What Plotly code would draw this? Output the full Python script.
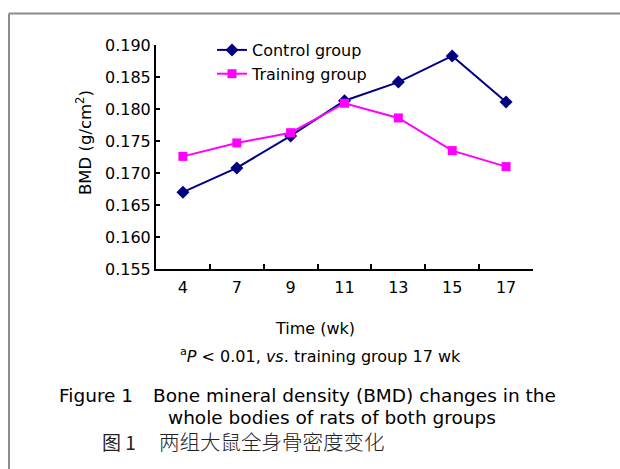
import plotly.graph_objects as go

# Measurement weeks and whole-body BMD (g/cm^2) of each group
weeks = ["4", "7", "9", "11", "13", "15", "17"]
control_bmd = [0.1670, 0.1708, 0.1758, 0.1813, 0.1842, 0.1883, 0.1811]
training_bmd = [0.1726, 0.1747, 0.1763, 0.1809, 0.1786, 0.1735, 0.1710]
y_ticks = [0.155, 0.160, 0.165, 0.170, 0.175, 0.180, 0.185, 0.190]

W_PX, H_PX = 620, 469
L, R, T, B = 156, 533, 45, 269  # plot-area edges in pixels


def px(x):
    return (x - L) / (R - L)


def py(y):
    return (B - y) / (B - T)


FONT = "DejaVu Sans"
CJK = "Noto Sans CJK SC"

fig = go.Figure()
fig.add_trace(go.Scatter(
    x=weeks, y=control_bmd, name="Control group", mode="lines+markers",
    line=dict(color="#000080", width=2),
    marker=dict(symbol="diamond", size=10, color="#000080"),
))
fig.add_trace(go.Scatter(
    x=weeks, y=training_bmd, name="Training group", mode="lines+markers",
    line=dict(color="#FF00FF", width=2),
    marker=dict(symbol="square", size=9, color="#FF00FF"),
))

fig.update_layout(
    width=W_PX, height=H_PX,
    margin=dict(l=L, r=W_PX - R, t=T, b=H_PX - B, pad=0),
    paper_bgcolor="white", plot_bgcolor="white",
    font=dict(family=FONT, size=16, color="black"),
    showlegend=True,
    legend=dict(
        x=px(212), y=py(33), xanchor="left", yanchor="top",
        bgcolor="rgba(0,0,0,0)", borderwidth=0,
        font=dict(family=FONT, size=16, color="black"),
        tracegroupgap=0,
    ),
    xaxis=dict(
        type="category", range=[-0.5, 6.5],
        showline=True, linecolor="black", linewidth=2,
        ticks="inside", tickson="boundaries", ticklen=5, tickwidth=2, tickcolor="black",
        showgrid=False, zeroline=False,
        tickfont=dict(family=FONT, size=16, color="black"),
        ticklabelstandoff=3,
    ),
    yaxis=dict(
        range=[0.155, 0.190], tickvals=y_ticks, tickformat=".3f",
        showline=True, linecolor="black", linewidth=2,
        ticks="inside", ticklen=4, tickwidth=2, tickcolor="black",
        showgrid=False, zeroline=False,
        tickfont=dict(family=FONT, size=16, color="black"),
    ),
)

# Significance marks
fig.add_annotation(x="15", y=control_bmd[5], text="a", showarrow=False,
                   yshift=21, xshift=-3, font=dict(family=FONT, size=16))
fig.add_annotation(x="11", y=training_bmd[3], text="a", showarrow=False,
                   yshift=-16, xshift=7, font=dict(family=FONT, size=16))

# Axis titles and footnote
mid = dict(xref="paper", yref="paper", showarrow=False, xanchor="center", yanchor="middle")
fig.add_annotation(x=px(84), y=py(143), text="BMD (g/cm<sup>2</sup>)", textangle=-90,
                   font=dict(family=FONT, size=16.5), **mid)
fig.add_annotation(x=px(315), y=py(328), text="Time (wk)",
                   font=dict(family=FONT, size=16), **mid)
fig.add_annotation(x=px(320), y=py(355),
                   text="<sup>a</sup><i>P</i> &lt; 0.01, <i>vs</i>. training group 17 wk",
                   font=dict(family=FONT, size=16), **mid)

# Figure caption
cap = dict(xref="paper", yref="paper", showarrow=False, xanchor="left", yanchor="middle")
fig.add_annotation(x=px(57), y=py(395), text="Figure 1", font=dict(family=FONT, size=18.5), **cap)
fig.add_annotation(x=px(151), y=py(395), text="Bone mineral density (BMD) changes in the",
                   font=dict(family=FONT, size=18.5), **cap)
fig.add_annotation(x=px(166), y=py(417), text="whole bodies of rats of both groups",
                   font=dict(family=FONT, size=18.5), **cap)
fig.add_annotation(x=px(100), y=py(441), text="图 1", font=dict(family=CJK, size=19, color="#222"), **cap)
fig.add_annotation(x=px(157), y=py(441), text="两组大鼠全身骨密度变化",
                   font=dict(family=CJK, size=20.5, color="#222", weight=300), **cap)

# Gray frame (top and left edges)
frame = dict(type="line", xref="paper", yref="paper", line=dict(color="#8c8c8c", width=2))
fig.add_shape(x0=px(9), x1=px(640), y0=py(13.5), y1=py(13.5), **frame)
fig.add_shape(x0=px(9), x1=px(9), y0=py(13.5), y1=py(490), **frame)

fig.write_html("out.html")
